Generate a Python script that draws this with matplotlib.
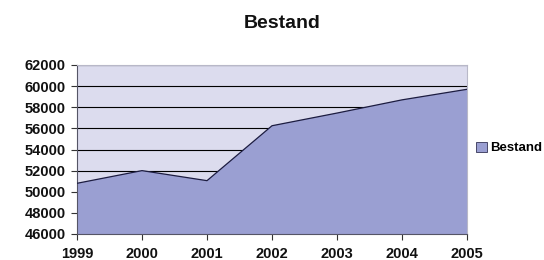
import matplotlib.pyplot as plt

years = [1999, 2000, 2001, 2002, 2003, 2004, 2005]
bestand = [50800, 52000, 51050, 56250, 57450, 58700, 59700]
y_ticks = list(range(46000, 62001, 2000))

plt.rcParams['font.family'] = ['Liberation Sans', 'DejaVu Sans']

fig = plt.figure(figsize=(5.44, 2.60), dpi=100)
ax = fig.add_axes([77 / 544, 1 - 234 / 260, 390 / 544, 169 / 260])

ax.set_facecolor('#dcdcee')
ax.fill_between(years, bestand, 46000, color='#9a9fd2', edgecolor='none', zorder=2,
                label='Bestand')
ax.plot(years, bestand, color='#1c1c40', linewidth=0.9, zorder=3)

ax.set_xlim(1999, 2005)
ax.set_ylim(46000, 62000)
ax.set_xticks(years)
ax.set_yticks(y_ticks)
ax.grid(axis='y', color='black', linewidth=0.8, zorder=1)
ax.set_axisbelow(True)

for s in ['top', 'right']:
    ax.spines[s].set_color('#b8b8c8')
    ax.spines[s].set_linewidth(0.8)
for s in ['left', 'bottom']:
    ax.spines[s].set_color('#555566')
    ax.spines[s].set_linewidth(0.8)

ax.tick_params(axis='both', labelsize=10.5, colors='#333333', length=4, width=0.8)
for lbl in ax.get_xticklabels() + ax.get_yticklabels():
    lbl.set_fontweight('bold')
    lbl.set_color('#111111')
ax.tick_params(axis='x', pad=5)
ax.tick_params(axis='y', pad=4)

fig.text(282 / 544, 1 - 23 / 260, 'Bestand', ha='center', va='center',
         fontsize=14, fontweight='bold', color='#111111')

leg = fig.legend(loc='center left', bbox_to_anchor=(476 / 544, 1 - 148 / 260),
                 frameon=False, prop={'weight': 'bold', 'size': 9.5},
                 handlelength=0.8, handleheight=0.8, handletextpad=0.3,
                 borderaxespad=0, borderpad=0)
for h in leg.legend_handles:
    h.set_edgecolor('#333355')
    h.set_linewidth(0.6)

fig.savefig('out.png', dpi=100)
